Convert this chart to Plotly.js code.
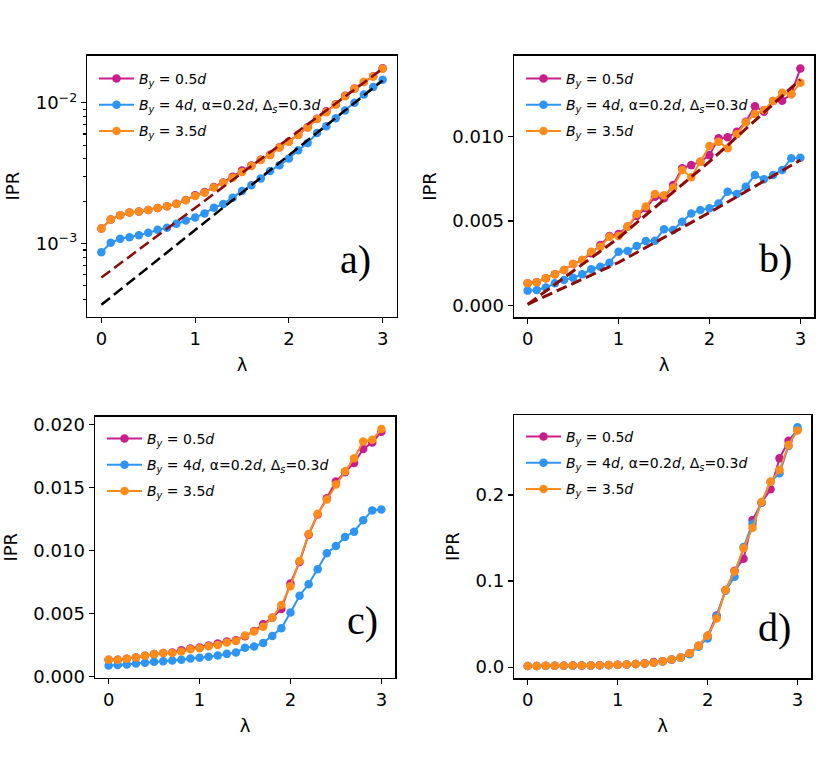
<!DOCTYPE html>
<html>
<head>
<meta charset="utf-8">
<script src="https://cdn.plot.ly/plotly-3.0.1.min.js"></script>
<style>html,body{margin:0;padding:0;background:#fff;}#plot{width:830px;height:766px;}</style>
</head>
<body>
<div id="plot"></div>
<script>
// ---------- data ----------
const lam = [0,0.1,0.2,0.3,0.4,0.5,0.6,0.7,0.8,0.9,1.0,1.1,1.2,1.3,1.4,1.5,1.6,1.7,1.8,1.9,2.0,2.1,2.2,2.3,2.4,2.5,2.6,2.7,2.8,2.9,3.0];

const seriesNames = [
  '<i>B</i><sub><i>y</i></sub> = 0.5<i>d</i>',
  '<i>B</i><sub><i>y</i></sub> = 4<i>d</i>, α=0.2<i>d</i>, Δ<sub><i>s</i></sub>=0.3<i>d</i>',
  '<i>B</i><sub><i>y</i></sub> = 3.5<i>d</i>'
];
const panelLabels = ['a)', 'b)', 'c)', 'd)'];

// panel a (log scale)
const aMag = [0.00128,0.00148,0.00159,0.00166,0.00169,0.00173,0.00179,0.00184,0.00192,0.00204,0.00220,0.00232,0.00252,0.00272,0.00298,0.00330,0.00358,0.00394,0.00428,0.00484,0.00532,0.00593,0.00670,0.00772,0.00870,0.00978,0.01125,0.01262,0.01408,0.01545,0.01760];
const aBlue = [0.000867,0.001012,0.00108,0.00111,0.001146,0.001191,0.001251,0.001294,0.001381,0.001459,0.001532,0.001636,0.001797,0.001909,0.002119,0.002364,0.002596,0.002896,0.003283,0.003602,0.004019,0.00461,0.005174,0.0061,0.00681,0.00777,0.00881,0.0100,0.01147,0.01294,0.01459];
const aOra = [0.00128,0.00148,0.00159,0.00166,0.00169,0.00173,0.00179,0.00184,0.00191,0.00203,0.00218,0.00230,0.00250,0.00270,0.00293,0.00323,0.00356,0.00392,0.00425,0.00482,0.00529,0.00591,0.00667,0.00768,0.00857,0.00972,0.01114,0.01258,0.01404,0.01541,0.01749];
const aFitX = [0, 3];
const aFitRed = [0.000574, 0.0175];
const aFitBlack = [0.000367, 0.01442];

// panel b (linear)
const bMag = [0.00132,0.00138,0.00162,0.00185,0.00211,0.00246,0.00270,0.00309,0.00358,0.00411,0.00423,0.00467,0.00529,0.00575,0.00643,0.00634,0.00713,0.00811,0.00830,0.00850,0.00889,0.00988,0.00994,0.01027,0.01086,0.01178,0.01145,0.01208,0.01210,0.01250,0.01401];
const bBlue = [0.00089,0.00093,0.00107,0.00132,0.00152,0.00165,0.00185,0.00215,0.00230,0.00254,0.00319,0.00323,0.00352,0.00382,0.00384,0.00451,0.00447,0.00496,0.00545,0.00565,0.00575,0.00604,0.00673,0.00659,0.00703,0.00771,0.00746,0.00771,0.00801,0.00870,0.00874];
const bOra = [0.00132,0.00138,0.00162,0.00185,0.00211,0.00246,0.00270,0.00319,0.00348,0.00407,0.00411,0.00467,0.00541,0.00585,0.00659,0.00652,0.00697,0.00801,0.00758,0.00850,0.00943,0.00968,0.00929,0.01012,0.01081,0.01132,0.01155,0.01208,0.01257,0.01248,0.01316];
const bFitX = [0, 1, 2, 3];
const bFitUpper = [0.00008, 0.00400, 0.00850, 0.01335];
const bFitLower = [0.00008, 0.00255, 0.00550, 0.00860];

// panel c (linear)
const cMag = [0.00132,0.00132,0.00140,0.00150,0.00164,0.00177,0.00185,0.00190,0.00208,0.00221,0.00229,0.00245,0.00261,0.00277,0.00287,0.00319,0.00361,0.00414,0.00466,0.00535,0.00737,0.00908,0.01124,0.01285,0.01414,0.01546,0.01619,0.01693,0.01804,0.01856,0.01941];
const cBlue = [0.00087,0.00090,0.00095,0.00103,0.00108,0.00116,0.00121,0.00127,0.00132,0.00142,0.00148,0.00156,0.00166,0.00179,0.00190,0.00227,0.00237,0.00266,0.00321,0.00382,0.00508,0.00640,0.00732,0.00851,0.00977,0.01035,0.01106,0.01148,0.01238,0.01317,0.01324];
const cOra = [0.00132,0.00132,0.00140,0.00150,0.00164,0.00177,0.00185,0.00185,0.00198,0.00216,0.00224,0.00240,0.00250,0.00269,0.00282,0.00324,0.00356,0.00395,0.00466,0.00566,0.00716,0.00916,0.01130,0.01290,0.01403,0.01522,0.01627,0.01730,0.01864,0.01877,0.01962];

// panel d (linear)
const dMag = [0.0013,0.0014,0.0015,0.0016,0.0017,0.0018,0.0019,0.0020,0.0022,0.0024,0.0027,0.0031,0.0037,0.0044,0.0060,0.0068,0.0089,0.0113,0.0160,0.0248,0.0365,0.0600,0.0895,0.1120,0.1260,0.1710,0.1910,0.2066,0.2426,0.2630,0.2756];
const dBlue = [0.0012,0.0013,0.0014,0.0015,0.0016,0.0017,0.0018,0.0019,0.0021,0.0023,0.0026,0.0030,0.0035,0.0041,0.0050,0.0064,0.0085,0.0108,0.0150,0.0236,0.0333,0.0590,0.0887,0.1050,0.1395,0.1667,0.1910,0.2155,0.2252,0.2570,0.2787];
const dOra = [0.0013,0.0014,0.0015,0.0016,0.0017,0.0018,0.0019,0.0020,0.0022,0.0024,0.0027,0.0031,0.0037,0.0043,0.0052,0.0068,0.0089,0.0113,0.0160,0.0248,0.0365,0.0566,0.0895,0.1110,0.1380,0.1620,0.1920,0.2155,0.2290,0.2580,0.2750];

// ---------- styling ----------
const colMag = '#C71E8C';
const colBlue = '#2E95F5';
const colOra = '#FF8C1A';
const colDarkRed = '#8B0A0A';

function series(y, idx, color, ax, leg) {
  return {
    x: lam, y: y, type: 'scatter', mode: 'lines+markers',
    name: seriesNames[idx],
    line: {color: color, width: 2},
    marker: {color: color, size: 8.5},
    xaxis: ax[0], yaxis: ax[1],
    legend: leg, legendgroup: leg + '_' + idx
  };
}
function fit(x, y, color, ax, w) {
  return {
    x: x, y: y, type: 'scatter', mode: 'lines',
    line: {color: color, width: w, dash: '11px,5px'},
    xaxis: ax[0], yaxis: ax[1], showlegend: false, hoverinfo: 'skip'
  };
}

const A = ['x', 'y'], B = ['x2', 'y2'], C = ['x3', 'y3'], D = ['x4', 'y4'];
const data = [
  series(aMag, 0, colMag, A, 'legend'),
  series(aBlue, 1, colBlue, A, 'legend'),
  series(aOra, 2, colOra, A, 'legend'),
  fit(aFitX, aFitRed, colDarkRed, A, 2.5),
  fit(aFitX, aFitBlack, '#000000', A, 2.5),

  series(bMag, 0, colMag, B, 'legend2'),
  series(bBlue, 1, colBlue, B, 'legend2'),
  series(bOra, 2, colOra, B, 'legend2'),
  fit(bFitX, bFitUpper, colDarkRed, B, 3),
  fit(bFitX, bFitLower, colDarkRed, B, 3),

  series(cMag, 0, colMag, C, 'legend3'),
  series(cBlue, 1, colBlue, C, 'legend3'),
  series(cOra, 2, colOra, C, 'legend3'),

  series(dMag, 0, colMag, D, 'legend4'),
  series(dBlue, 1, colBlue, D, 'legend4'),
  series(dOra, 2, colOra, D, 'legend4')
];

const W = 830, H = 766;
const px = v => v / W;
const py = v => 1 - v / H;

function xax(d0, d1, anchor) {
  return {
    domain: [px(d0), px(d1)], anchor: anchor, range: [-0.15, 3.15],
    tickvals: [0, 1, 2, 3], ticks: 'outside', ticklen: 5, tickwidth: 1.2, tickcolor: '#000',
    showline: true, mirror: true, linecolor: '#000', linewidth: 1.5,
    showgrid: false, zeroline: false,
    title: {text: 'λ', font: {size: 18}, standoff: 10},
    tickfont: {size: 18}
  };
}
function yax(t0, t1, anchor, extra) {
  return Object.assign({
    domain: [py(t1), py(t0)], anchor: anchor,
    ticks: 'outside', ticklen: 5, tickwidth: 1.2, tickcolor: '#000',
    showline: true, mirror: true, linecolor: '#000', linewidth: 1.5,
    showgrid: false, zeroline: false,
    title: {text: 'IPR', font: {size: 18}, standoff: 11},
    tickfont: {size: 18}
  }, extra);
}

function legendAt(x, yTop) {
  return {
    x: px(x), y: py(yTop), xanchor: 'left', yanchor: 'top',
    bgcolor: 'rgba(255,255,255,0)', borderwidth: 0, itemwidth: 35,
    font: {size: 14, color: '#000'}, tracegroupgap: 5
  };
}

function label(text, x, y) {
  return {
    text: text, xref: 'paper', yref: 'paper', x: px(x), y: py(y),
    xanchor: 'center', yanchor: 'middle', showarrow: false,
    font: {family: 'Liberation Serif, Times New Roman, serif', size: 40, color: '#000'}
  };
}

const layout = {
  width: W, height: H,
  margin: {l: 0, r: 0, t: 0, b: 0},
  paper_bgcolor: '#fff', plot_bgcolor: '#fff',
  font: {family: 'DejaVu Sans, sans-serif', size: 18, color: '#000'},
  showlegend: true,
  xaxis: xax(87.3, 396.7, 'y'),
  yaxis: yax(55.7, 316.7, 'x', {
    type: 'log', range: [-3.52, -1.665],
    tickvals: [0.001, 0.01], ticktext: ['10<sup>−3</sup>', '10<sup>−2</sup>'],
    minor: {ticks: 'outside', ticklen: 3, tickcolor: '#000',
      tickvals: [0.0004,0.0005,0.0006,0.0007,0.0008,0.0009,0.002,0.003,0.004,0.005,0.006,0.007,0.008,0.009]}
  }),
  xaxis2: xax(514, 814, 'y2'),
  yaxis2: yax(55.7, 317.3, 'x2', {
    range: [-0.000685, 0.01476], tickvals: [0, 0.005, 0.010], ticktext: ['0.000', '0.005', '0.010']
  }),
  xaxis3: xax(95, 395, 'y3'),
  yaxis3: yax(416.7, 677.7, 'x3', {
    range: [-0.0001, 0.0206], tickvals: [0, 0.005, 0.010, 0.015, 0.020],
    ticktext: ['0.000', '0.005', '0.010', '0.015', '0.020']
  }),
  xaxis4: xax(514.3, 811, 'y4'),
  yaxis4: yax(415, 678.3, 'x4', {
    range: [-0.013, 0.293], tickvals: [0, 0.1, 0.2], ticktext: ['0.0', '0.1', '0.2']
  }),
  legend: legendAt(94, 63),
  legend2: legendAt(521, 63),
  legend3: legendAt(102, 423),
  legend4: legendAt(521, 421),
  annotations: [
    label(panelLabels[0], 355, 260),
    label(panelLabels[1], 775, 258),
    label(panelLabels[2], 362, 620),
    label(panelLabels[3], 774, 627)
  ]
};

Plotly.newPlot('plot', data, layout, {staticPlot: true, displayModeBar: false});
</script>
</body>
</html>
